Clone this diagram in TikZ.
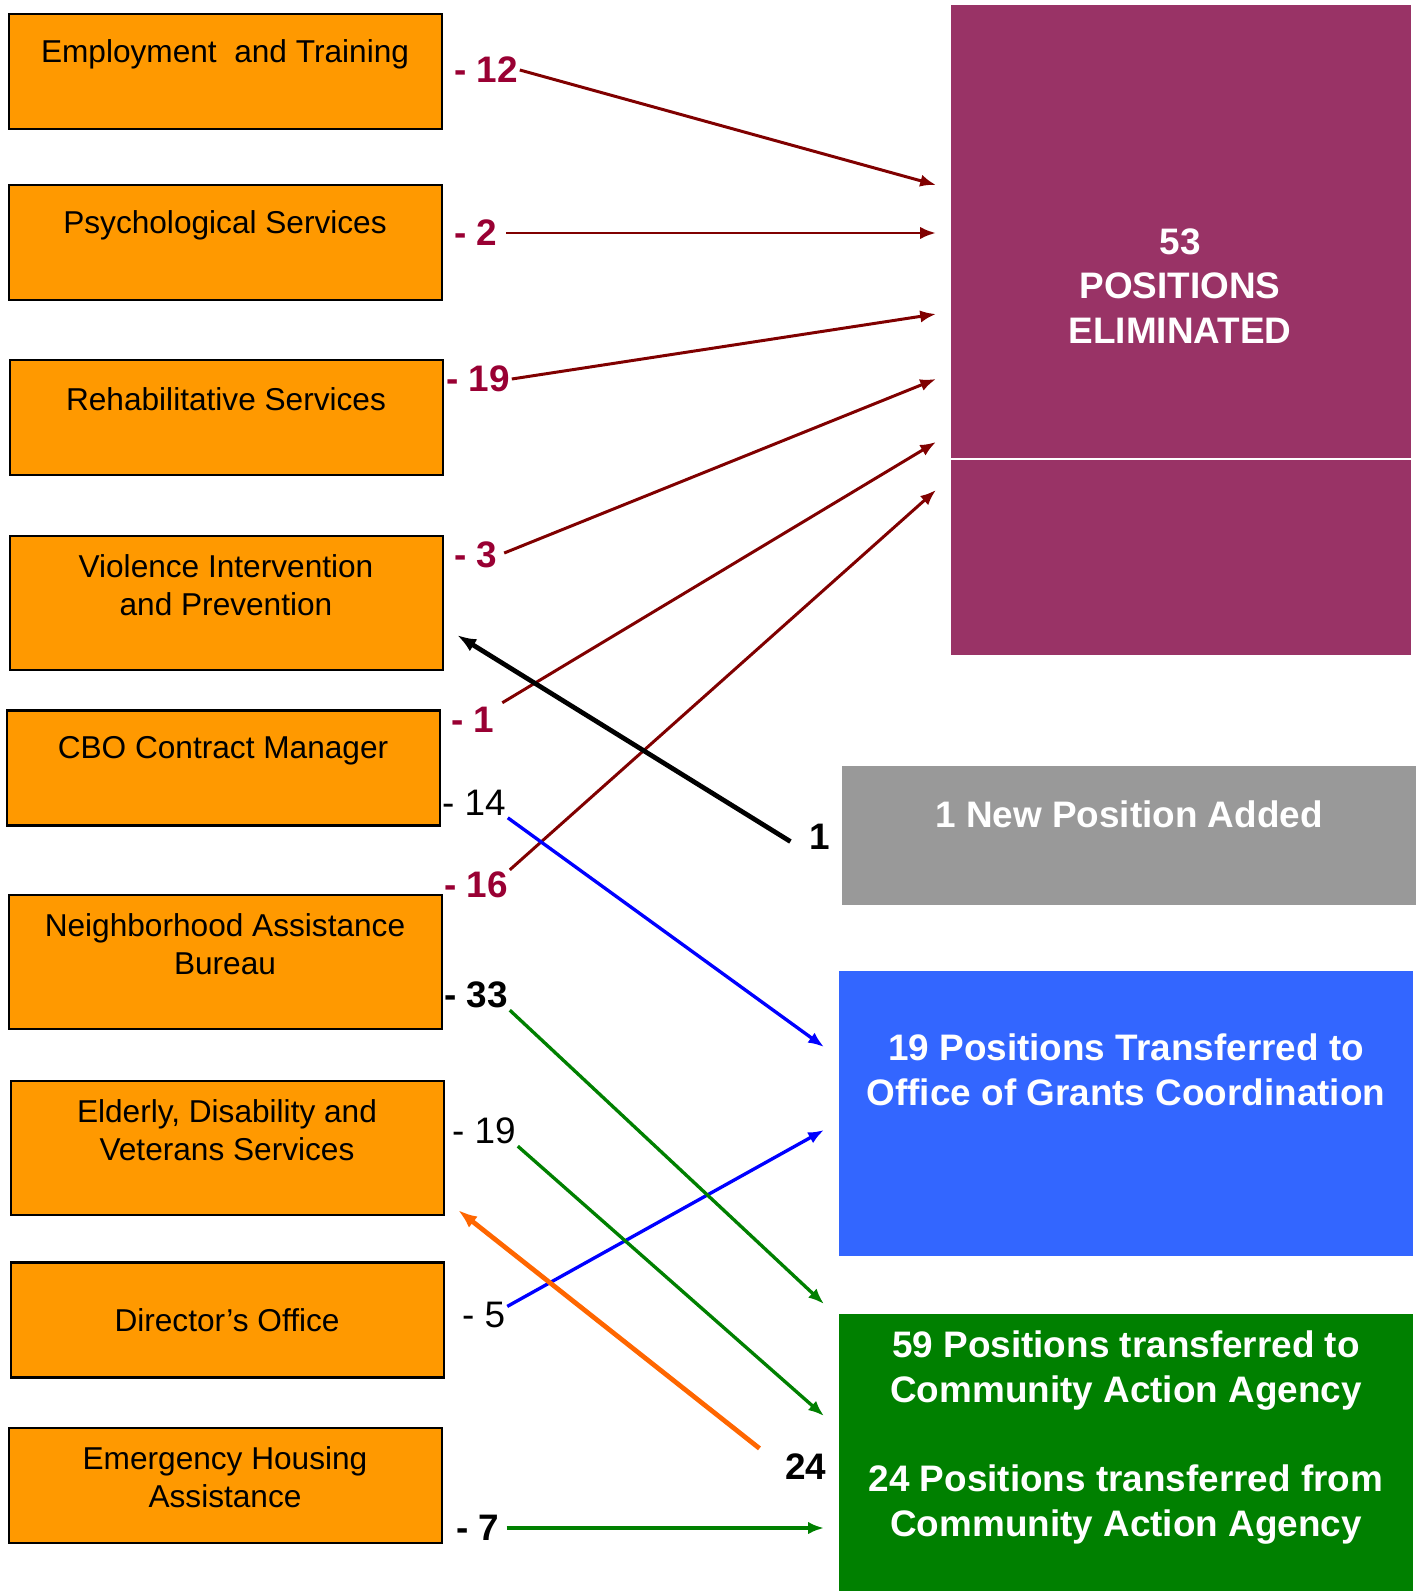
\documentclass[tikz,border=0pt]{standalone}
\usepackage{fontspec}
\setmainfont{Liberation Sans}
\usetikzlibrary{arrows.meta}
\definecolor{boxorange}{HTML}{FF9900}
\definecolor{elimpurple}{HTML}{993366}
\definecolor{newgray}{HTML}{999999}
\definecolor{ogcblue}{HTML}{3366FF}
\definecolor{cagreen}{HTML}{008000}
\definecolor{cutred}{HTML}{990033}
\definecolor{cutline}{HTML}{800000}
\definecolor{backorange}{HTML}{FF6600}
\begin{document}
\begin{tikzpicture}[x=0.02cm,y=-0.02cm,
  obox/.style={draw,line width=1.5pt,fill=boxorange,minimum width=8.66cm,minimum height=2.3cm},
  tall/.style={minimum height=2.68cm},
  otxt/.style={align=center,font=\fontsize{18}{21.5}\selectfont},
  rbox/.style={minimum width=11.48cm,inner sep=0pt},
  rtxt/.style={align=center,text=white,font=\fontsize{21}{25.5}\selectfont\bfseries},
  moved/.style={anchor=west,inner sep=1pt,font=\fontsize{21}{24}\selectfont},
  movedb/.style={moved,font=\fontsize{21}{24}\selectfont\bfseries},
  cut/.style={movedb,text=cutred},
  gone/.style={cutline,line width=1.7pt,-{Latex[length=9pt,width=7pt]}},
  toogc/.style={blue,line width=1.9pt,-{Latex[length=9pt,width=7pt]}},
  tocaa/.style={cagreen,line width=1.9pt,-{Latex[length=9pt,width=7pt]}},
  back/.style={line width=2.7pt,-{Latex[length=11pt,width=8pt]}}
]
\useasboundingbox (0,0) rectangle (1420,1591);

\node[obox] (emp) at (225.5,71.5) {};
\node[obox] (psych) at (225.5,242.5) {};
\node[obox] (rehab) at (226.5,417.5) {};
\node[obox,tall] (viol) at (226.5,603) {};
\node[obox] (cbo) at (223.5,768) {};
\node[obox,tall] (nab) at (225.5,962) {};
\node[obox,tall] (edvs) at (227.5,1148) {};
\node[obox] (dir) at (227.5,1320) {};
\node[obox] (eha) at (225.5,1485.5) {};

\node[otxt] (empt) at (225,54) {Employment\ \ and Training};
\node[otxt] (psycht) at (225,225) {Psychological Services};
\node[otxt] (rehabt) at (226,399) {Rehabilitative Services};
\node[otxt] (violt) at (226,585) {Violence Intervention\\and Prevention};
\node[otxt] (cbot) at (223,751) {CBO Contract Manager};
\node[otxt] (nabt) at (225,944) {Neighborhood Assistance\\Bureau};
\node[otxt] (edvst) at (227,1130) {Elderly, Disability and\\Veterans Services};
\node[otxt] (dirt) at (227,1320) {Director’s Office};
\node[otxt] (ehat) at (225,1477) {Emergency Housing\\Assistance};

\node[rbox,fill=elimpurple,minimum width=9.2cm,minimum height=13cm] (elim) at (1181,330) {};
\draw[white,line width=1pt] (951,459) -- (1411,459);
\node[rbox,fill=newgray,minimum height=2.78cm] (new) at (1129,835.5) {};
\node[rbox,fill=ogcblue,minimum height=5.7cm] (ogc) at (1126,1113.5) {};
\node[rbox,fill=cagreen,minimum height=5.54cm] (caa) at (1126,1452.5) {};

\node[rtxt] (elimt) at (1180,286) {53\\POSITIONS\\ELIMINATED};
\node[rtxt] (newt) at (1129,814) {1 New Position Added};
\node[rtxt] (ogct) at (1126,1070) {19 Positions Transferred to\\Office of Grants Coordination};
\node[rtxt] (caat) at (1126,1437.5) {59 Positions transferred to\\Community Action Agency\\[25.5pt]24 Positions transferred from\\Community Action Agency};

\node[cut] (l12) at (452,70) {- 12};
\node[cut] (l2) at (452,233) {- 2};
\node[cut] (l19) at (444,379) {- 19};
\node[cut] (l3) at (452,555) {- 3};
\node[cut] (l1) at (449,720) {- 1};
\node[moved] (l14) at (440,803) {- 14};
\node[cut] (l16) at (442,885) {- 16};
\node[movedb] (l33) at (442,995) {- 33};
\node[moved] (l19b) at (450,1131) {- 19};
\node[moved] (l5) at (460,1315) {- 5};
\node[movedb] (l7) at (454,1528) {- 7};
\node[movedb] (n1) at (807,837) {1};
\node[movedb] (n24) at (783,1467) {24};

\coordinate (e12) at (936,185);
\coordinate (e2) at (936,233);
\coordinate (e19) at (936,314);
\coordinate (e3) at (936,379);
\coordinate (e1) at (936,442);
\coordinate (e16) at (936,490);
\coordinate (g14) at (824,1047);
\coordinate (g5) at (824,1130);
\coordinate (c33) at (824,1304);
\coordinate (c19) at (824,1416);
\coordinate (c7) at (824,1528);
\coordinate (vin) at (457,635);
\coordinate (ein) at (458,1210);

\draw[gone] (l12.east) -- (e12);
\draw[gone,shorten <=4pt] (l2.east) -- (e2);
\draw[gone] (l19.east) -- (e19);
\draw[gone,shorten <=3pt] (l3.east) -- (e3);
\draw[gone,shorten <=4pt] (l1.30) -- (e1);
\draw[gone] (l16.north east) -- (e16);
\draw[toogc] (l14.south east) -- (g14);
\draw[toogc] (l5.20) -- (g5);
\draw[tocaa] (l33.south east) -- (c33);
\draw[tocaa] (l19b.south east) -- (c19);
\draw[tocaa,shorten <=3pt] (l7.east) -- (c7);
\draw[back,shorten <=0.39cm] (n1.south west) -- (vin);
\draw[back,backorange,shorten <=0.6cm] (n24.west) -- (ein);
\end{tikzpicture}
\end{document}
